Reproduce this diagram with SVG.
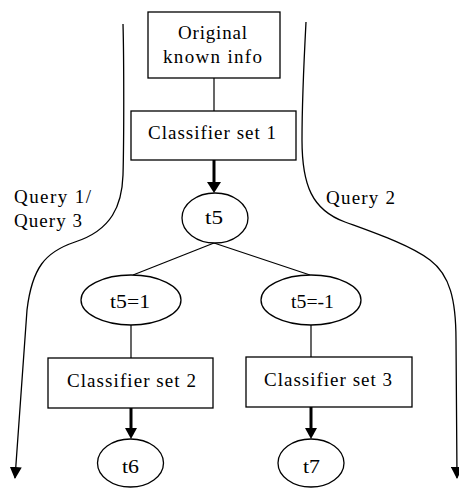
<svg xmlns="http://www.w3.org/2000/svg" width="459" height="489" viewBox="0 0 459 489">
  <style>
    .box { fill: #fff; stroke: #000; stroke-width: 1.3; }
    .oval { fill: #fff; stroke: #000; stroke-width: 1.3; }
    .lbl { font-family: "Liberation Serif", "Times New Roman", serif; font-size: 19px; fill: #000; }
    .thin { fill: none; stroke: #000; stroke-width: 1.2; }
    .thick { fill: none; stroke: #000; stroke-width: 3; }
    .query { fill: none; stroke: #000; stroke-width: 1.3; }
  </style>
  <defs>
    <marker id="head" markerUnits="userSpaceOnUse" markerWidth="12" markerHeight="12" viewBox="0 0 12 12" refX="11" refY="6" orient="auto">
      <polygon points="0,0 12,6 0,12" fill="#000"/>
    </marker>
  </defs>
  <rect width="459" height="489" fill="#fff"/>

  <g id="connectors">
    <!-- query paths -->
    <path class="query" d="M123,24 C124,60 124,140 123,175 C122,205 112,230 75,242 C45,252 32,268 27,310 L15,478" marker-end="url(#head)"/>
    <path class="query" d="M306,22 C304,60 302,110 302,140 C302,185 312,210 345,222 C375,233 410,245 430,260 C450,275 456,300 456,340 L457,478" marker-end="url(#head)"/>
    <!-- tree links -->
    <line class="thin" x1="214" y1="78" x2="214" y2="111"/>
    <line class="thick" x1="214" y1="160" x2="214" y2="182"/>
    <polygon points="207,182 221,182 214,193" fill="#000"/>
    <line class="thin" x1="214" y1="243" x2="133" y2="275"/>
    <line class="thin" x1="214" y1="243" x2="310" y2="275"/>
    <line class="thin" x1="131" y1="325" x2="131" y2="358"/>
    <line class="thin" x1="311" y1="325" x2="311" y2="357"/>
    <line class="thick" x1="131" y1="408" x2="131" y2="428"/>
    <polygon points="125,428 137,428 131,439" fill="#000"/>
    <line class="thick" x1="311" y1="407" x2="311" y2="428"/>
    <polygon points="305,428 317,428 311,439" fill="#000"/>
  </g>

  <g id="original">
    <rect class="box" x="148" y="12" width="132" height="66"/>
    <text class="lbl" x="178" y="39" textLength="69" lengthAdjust="spacing">Original</text>
    <text class="lbl" x="163" y="63" textLength="99" lengthAdjust="spacing">known info</text>
  </g>
  <g id="cs1">
    <rect class="box" x="131" y="111" width="165" height="49"/>
    <text class="lbl" x="148" y="139" textLength="128" lengthAdjust="spacing">Classifier set 1</text>
  </g>
  <g id="t5">
    <ellipse class="oval" cx="215" cy="218" rx="33" ry="25"/>
    <text class="lbl" x="205" y="224" textLength="18" lengthAdjust="spacingAndGlyphs">t5</text>
  </g>
  <g id="t5pos">
    <ellipse class="oval" cx="131" cy="300" rx="50" ry="25"/>
    <text class="lbl" x="110" y="308" textLength="40" lengthAdjust="spacingAndGlyphs">t5=1</text>
  </g>
  <g id="t5neg">
    <ellipse class="oval" cx="311" cy="300" rx="50" ry="25"/>
    <text class="lbl" x="291" y="308" textLength="43" lengthAdjust="spacingAndGlyphs">t5=-1</text>
  </g>
  <g id="cs2">
    <rect class="box" x="48" y="358" width="165" height="50"/>
    <text class="lbl" x="67" y="387" textLength="129" lengthAdjust="spacing">Classifier set 2</text>
  </g>
  <g id="cs3">
    <rect class="box" x="246" y="357" width="166" height="50"/>
    <text class="lbl" x="264" y="386" textLength="128" lengthAdjust="spacing">Classifier set 3</text>
  </g>
  <g id="t6">
    <ellipse class="oval" cx="130.5" cy="463" rx="33" ry="24"/>
    <text class="lbl" x="122" y="473" textLength="17" lengthAdjust="spacingAndGlyphs">t6</text>
  </g>
  <g id="t7">
    <ellipse class="oval" cx="311" cy="463" rx="33" ry="24"/>
    <text class="lbl" x="303" y="473" textLength="17" lengthAdjust="spacingAndGlyphs">t7</text>
  </g>

  <g id="query-labels">
    <text class="lbl" x="14" y="203" textLength="77" lengthAdjust="spacing">Query 1/</text>
    <text class="lbl" x="14" y="227" textLength="68" lengthAdjust="spacing">Query 3</text>
    <text class="lbl" x="326" y="204" textLength="69" lengthAdjust="spacing">Query 2</text>
  </g>
</svg>
